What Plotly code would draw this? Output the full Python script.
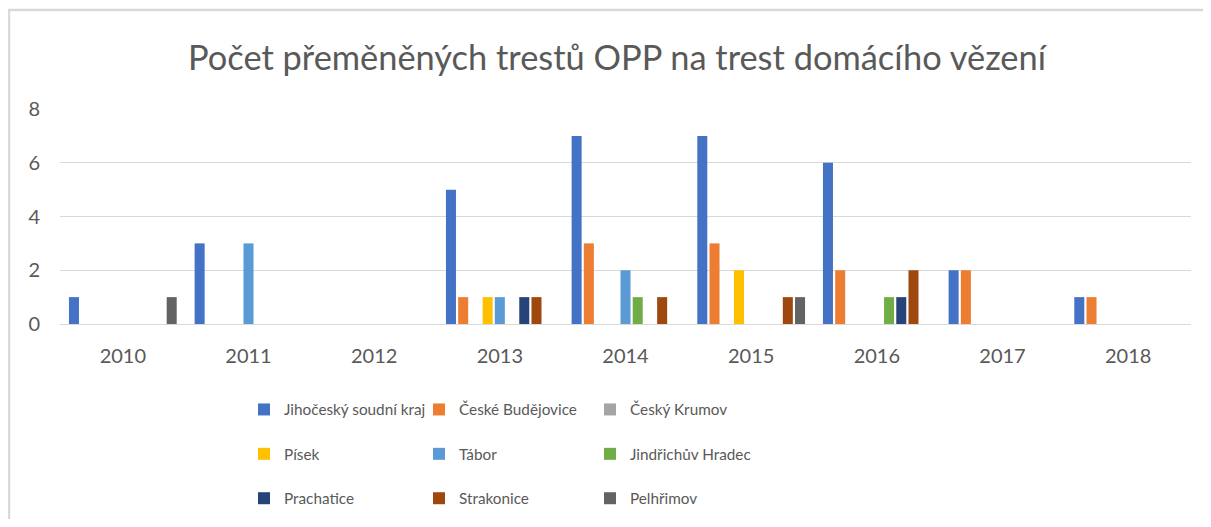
import plotly.graph_objects as go

years = ["2010", "2011", "2012", "2013", "2014", "2015", "2016", "2017", "2018"]

jihocesky = [1, 3, 0, 5, 7, 7, 6, 2, 1]
ceske_budejovice = [0, 0, 0, 1, 3, 3, 2, 2, 1]
cesky_krumov = [0, 0, 0, 0, 0, 0, 0, 0, 0]
pisek = [0, 0, 0, 1, 0, 2, 0, 0, 0]
tabor = [0, 3, 0, 1, 2, 0, 0, 0, 0]
jindrichuv_hradec = [0, 0, 0, 0, 1, 0, 1, 0, 0]
prachatice = [0, 0, 0, 1, 0, 0, 1, 0, 0]
strakonice = [0, 0, 0, 1, 1, 1, 2, 0, 0]
pelhrimov = [1, 0, 0, 0, 0, 1, 0, 0, 0]

series = [
    ("Jihočeský soudní kraj", jihocesky, "#4472C4", "legend"),
    ("České Budějovice", ceske_budejovice, "#ED7D31", "legend2"),
    ("Český Krumov", cesky_krumov, "#A5A5A5", "legend3"),
    ("Písek", pisek, "#FFC000", "legend"),
    ("Tábor", tabor, "#5B9BD5", "legend2"),
    ("Jindřichův Hradec", jindrichuv_hradec, "#70AD47", "legend3"),
    ("Prachatice", prachatice, "#264478", "legend"),
    ("Strakonice", strakonice, "#9E480E", "legend2"),
    ("Pelhřimov", pelhrimov, "#636363", "legend3"),
]

FONT = "Lato"
GRAY = "#595959"

fig = go.Figure()
for name, vals, color, leg in series:
    fig.add_trace(go.Bar(
        x=years, y=vals, name=name, legend=leg, legendgroup=name,
        marker=dict(color=color, line=dict(width=0)),
    ))

OFF = 8  # page body margin
W, H = 1211 - 2 * OFF, 527 - 2 * OFF
# target screen geometry of plot area
sx0, sx1, sy0, sy1 = 60, 1191, 109, 324
ml = sx0 - OFF
mr = W - (sx1 - OFF)
mt = sy0 - OFF
mb = H - (sy1 - OFF)
pw = W - ml - mr
ph = H - mt - mb

def py(ypix):
    return (sy1 - ypix) / ph

def px(xpix):
    return (xpix - sx0) / pw

def cx(xpix):
    return (xpix - OFF) / W

def cy(ypix):
    return 1 - (ypix - OFF) / H

legend_common = dict(
    orientation="v", font=dict(family=FONT, size=15.3, color=GRAY),
    xref="container", yref="container",
    xanchor="left", yanchor="middle", tracegroupgap=21.5,
    bgcolor="rgba(0,0,0,0)", itemclick=False, itemdoubleclick=False,
)

fig.update_layout(
    width=W, height=H,
    margin=dict(l=ml, r=mr, t=mt, b=mb, autoexpand=False),
    paper_bgcolor="white", plot_bgcolor="white",
    barmode="group", bargap=0.125, bargroupgap=0.18,
    title=dict(text="Počet přeměněných trestů OPP na trest domácího vězení",
               x=cx(617), xanchor="center", y=cy(58), yanchor="middle",
               font=dict(family=FONT, size=34.4, color=GRAY)),
    font=dict(family=FONT, color=GRAY),
    xaxis=dict(showgrid=False, showline=False, ticks="", tickfont=dict(size=20, color=GRAY),
               ticklabelstandoff=18),
    yaxis=dict(range=[0, 8], dtick=2, showgrid=True, gridcolor="#D9D9D9", gridwidth=1.3,
               zeroline=True, zerolinecolor="#D9D9D9", zerolinewidth=1.3, showline=False,
               tickfont=dict(size=20, color=GRAY), ticklabelstandoff=19),
    legend=dict(x=cx(244), y=cy(454), **legend_common),
    legend2=dict(x=cx(419), y=cy(454), **legend_common),
    legend3=dict(x=cx(590), y=cy(454), **legend_common),
    showlegend=True,
    shapes=[dict(type="rect", xref="paper", yref="paper",
                 x0=px(9), x1=px(1300), y0=py(700), y1=py(10),
                 line=dict(color="#D9D9D9", width=2.5), fillcolor="rgba(0,0,0,0)", layer="below")],
)

fig.write_html("out.html")
